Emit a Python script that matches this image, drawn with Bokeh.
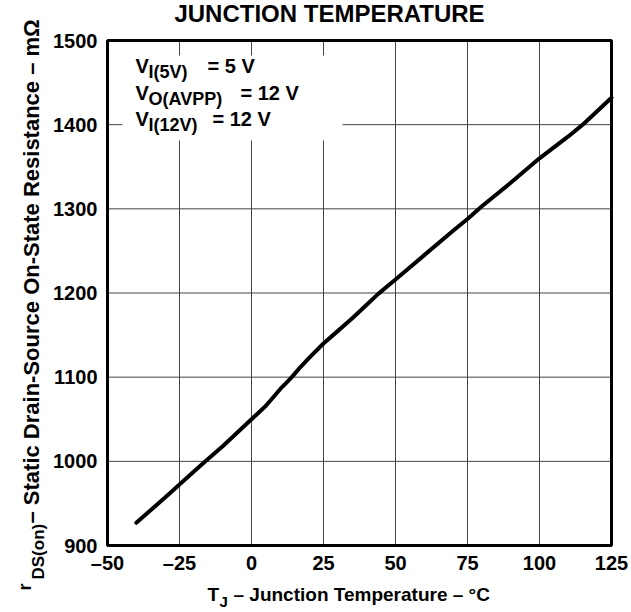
import math
from bokeh.plotting import figure
from bokeh.models import Label, BoxAnnotation, FixedTicker, Range1d
from bokeh.embed import file_html
from bokeh.resources import INLINE

# ---- data ----
temp_c = [-40, -30, -20, -16, -10, -5, 0, 5, 8, 10, 12, 14, 17, 20, 25, 30, 35, 40, 44, 50,
          60, 70, 75, 80, 90, 100, 110, 115, 125]
rds_mohm = [927, 957, 988, 1000, 1018, 1034, 1050, 1066, 1078, 1086, 1093, 1100, 1112, 1123,
            1140, 1155, 1170, 1186, 1199, 1216, 1245, 1274, 1288, 1303, 1331, 1360, 1386,
            1400, 1432]

x_ticks = [-50, -25, 0, 25, 50, 75, 100, 125]
x_tick_labels = ["–50", "–25", "0", "25", "50", "75", "100", "125"]
y_ticks = [900, 1000, 1100, 1200, 1300, 1400, 1500]

title_text = "JUNCTION TEMPERATURE"
xlabel_parts = ["T", "J", "– Junction Temperature – °C"]
ylabel_parts = ["r", "DS(on)", "– Static Drain-Source On-State Resistance – mΩ"]
FONT = "Liberation Sans"

# ---- geometry of the chart box on the page (pixels) ----
FL, FR, FT, FB = 107, 611, 40, 545
W, H = 631, 612
X0, X1, Y0, Y1 = x_ticks[0], x_ticks[-1], y_ticks[0], y_ticks[-1]
XS = (FR - FL) / (X1 - X0)
YS = (FB - FT) / (Y1 - Y0)


def xd(X):
    return X0 + (X - FL) / XS


def yd(Y):
    return Y0 + (FB - Y) / YS


# the plotting frame covers the whole canvas; the chart box is drawn inside it
p = figure(width=W, height=H, title=None,
           x_range=Range1d(xd(0), xd(W)), y_range=Range1d(yd(H), yd(0)),
           output_backend="svg", toolbar_location=None,
           min_border=0, min_border_left=0, min_border_right=0,
           min_border_top=0, min_border_bottom=0)
p.background_fill_color = "white"
p.border_fill_color = "white"
p.outline_line_color = None
p.grid.visible = False

for ax, ticks, loc in ((p.xaxis, x_ticks, Y0), (p.yaxis, y_ticks, X0)):
    ax.fixed_location = loc
    ax.bounds = (ticks[0], ticks[-1])
    ax.ticker = FixedTicker(ticks=ticks)
    ax.axis_line_color = None
    ax.major_tick_line_color = None
    ax.minor_tick_line_color = None
    ax.major_tick_out = 0
    ax.major_tick_in = 0
    ax.major_label_text_font = FONT
    ax.major_label_text_font_style = "bold"
    ax.major_label_text_font_size = "20px"
    ax.major_label_text_color = "black"
p.xaxis.major_label_overrides = {t: s for t, s in zip(x_ticks, x_tick_labels)}
p.xaxis.major_label_standoff = 6
p.yaxis.major_label_standoff = 10

# grid lines inside the chart box
gx = x_ticks[1:-1]
gy = y_ticks[1:-1]
p.segment(x0=gx, y0=[Y0] * len(gx), x1=gx, y1=[Y1] * len(gx),
          line_color="#444444", line_width=1)
p.segment(x0=[X0] * len(gy), y0=gy, x1=[X1] * len(gy), y1=gy,
          line_color="#444444", line_width=1)

# white box behind the conditions text
p.add_layout(BoxAnnotation(left=xd(122), right=xd(342), bottom=yd(140), top=yd(55),
                           fill_color="white", fill_alpha=1.0, line_color=None, line_alpha=0))

p.line(temp_c, rds_mohm, line_width=4, line_color="black", line_join="round", line_cap="round")

# chart box outline
p.add_layout(BoxAnnotation(left=X0, right=X1, bottom=Y0, top=Y1, fill_color=None,
                           fill_alpha=0, line_color="black", line_width=3, line_alpha=1.0))

K = 0.4  # empirical shift between requested and drawn baseline (in em)


def lab(text, X, Y, size, rotated=False, align="left"):
    if rotated:
        X = X - K * size
    else:
        Y = Y - K * size
    p.add_layout(Label(x=X, y=H - Y, x_units="screen", y_units="screen",
                       text=text, text_font=FONT, text_font_style="bold",
                       text_font_size=f"{size}px", text_color="black",
                       text_align=align, text_baseline="alphabetic",
                       angle=math.pi / 2 if rotated else 0.0))


# title
lab(title_text, 329, 23, 24, align="center")

# conditions
lab("V", 135, 73, 20)
lab("I(5V)", 148, 79, 18)
lab("= 5 V", 207, 73, 20)
lab("V", 135, 100, 20)
lab("O(AVPP)", 148, 106, 18)
lab("= 12 V", 240, 100, 20)
lab("V", 135, 126, 20)
lab("I(12V)", 148, 132, 18)
lab("= 12 V", 212, 126, 20)

# x axis title
lab(xlabel_parts[0], 207, 602, 19)
lab(xlabel_parts[1], 219, 607, 15)
lab(xlabel_parts[2], 233, 602, 19)

# y axis title (rotated, reads bottom to top)
lab(ylabel_parts[0], 32, 590, 18, rotated=True)
lab(ylabel_parts[1], 45, 579, 17, rotated=True)
lab(ylabel_parts[2], 40, 523, 22, rotated=True)

open("out.html", "w").write(file_html(p, INLINE))
